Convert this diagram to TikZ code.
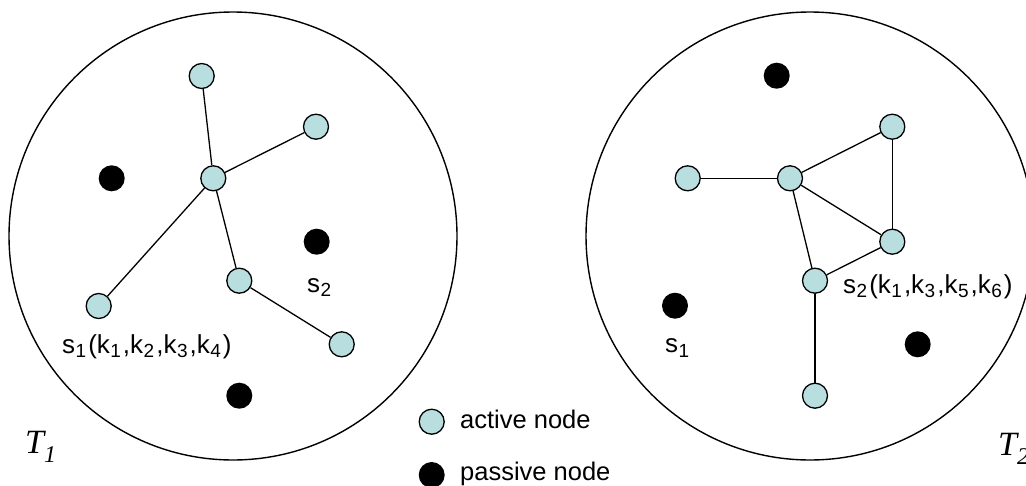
\documentclass[tikz,border=0pt]{standalone}
\usepackage{fontspec}
\setmainfont{Liberation Sans}
\newfontfamily\tfont{Liberation Serif}
\definecolor{nodecyan}{RGB}{185,222,224}
\tikzset{
  active/.style={circle, draw=black, fill=nodecyan, line width=1.3pt, minimum size=25pt, inner sep=0pt},
  passive/.style={circle, fill=black, minimum size=26pt, inner sep=0pt},
  edge/.style={line width=1.3pt},
  region/.style={line width=1.4pt},
  lbl/.style={anchor=base west, inner sep=0pt, font=\fontsize{26}{30}\selectfont},
  legtext/.style={anchor=base west, inner sep=0pt, font=\fontsize{25.5}{30}\selectfont},
  tlbl/.style={anchor=base west, inner sep=0pt, font=\tfont\itshape\fontsize{34}{40}\selectfont}
}
\newcommand{\tsub}[1]{\raisebox{-9pt}{\fontsize{24}{28}\selectfont #1}}
\newcommand{\ssub}[1]{\kern0.5pt\raisebox{-4.5pt}{\fontsize{19}{21}\selectfont #1}\kern2pt}
\begin{document}
\begin{tikzpicture}[x=1pt,y=-1pt]
\useasboundingbox (0,0) rectangle (1026,485);
\clip (0,0) rectangle (1026,485);
% regions
\draw[region] (233,236) circle[radius=224pt];
\draw[region] (810,236) circle[radius=224pt];
% left graph
\node[active] (a1) at (201.7,76) {};
\node[active] (a2) at (316,126.7) {};
\node[active] (a3) at (213.3,178.3) {};
\node[active] (a4) at (239.3,280.7) {};
\node[active] (a5) at (98.7,306) {};
\node[active] (a6) at (341.7,344.3) {};
\node[passive] (p1) at (111.7,178.3) {};
\node[passive] (p2) at (316.7,241.7) {};
\node[passive] (p3) at (239.3,395.7) {};
\draw[edge] (a1) -- (a3);
\draw[edge] (a2) -- (a3);
\draw[edge] (a3) -- (a5);
\draw[edge] (a3) -- (a4);
\draw[edge] (a4) -- (a6);
\node[lbl] (ls1) at (62,353) {s\ssub{1}(k\ssub{1},k\ssub{2},k\ssub{3},k\ssub{4})};
\node[lbl] (ls2) at (307,292) {s\ssub{2}};
% right graph
\node[active] (b1) at (687.7,178.3) {};
\node[active] (b2) at (790,178.3) {};
\node[active] (b3) at (892.3,126.7) {};
\node[active] (b4) at (892.3,241.7) {};
\node[active] (b5) at (815,280.7) {};
\node[active] (b6) at (815,395.7) {};
\node[passive] (q1) at (776.7,75.7) {};
\node[passive] (q2) at (675,305.7) {};
\node[passive] (q3) at (917.7,344.3) {};
\draw[edge] (b1) -- (b2);
\draw[edge] (b2) -- (b3);
\draw[edge] (b2) -- (b4);
\draw[edge] (b3) -- (b4);
\draw[edge] (b2) -- (b5);
\draw[edge] (b5) -- (b4);
\draw[edge] (b5) -- (b6);
\node[lbl] (rs2) at (843,293) {s\ssub{2}(k\ssub{1},k\ssub{3},k\ssub{5},k\ssub{6})};
\node[lbl] (rs1) at (665,352.7) {s\ssub{1}};
% legend
\node[active] (la) at (431.7,421.7) {};
\node[passive] (lp) at (431.7,475) {};
\node[legtext] (lta) at (460,428) {active node};
\node[legtext] (ltp) at (460,480) {passive node};
% tree labels
\node[tlbl] (t1) at (25,453) {T\tsub{1}};
\node[tlbl] (t2) at (998,455) {T\tsub{2}};
\end{tikzpicture}
\end{document}
